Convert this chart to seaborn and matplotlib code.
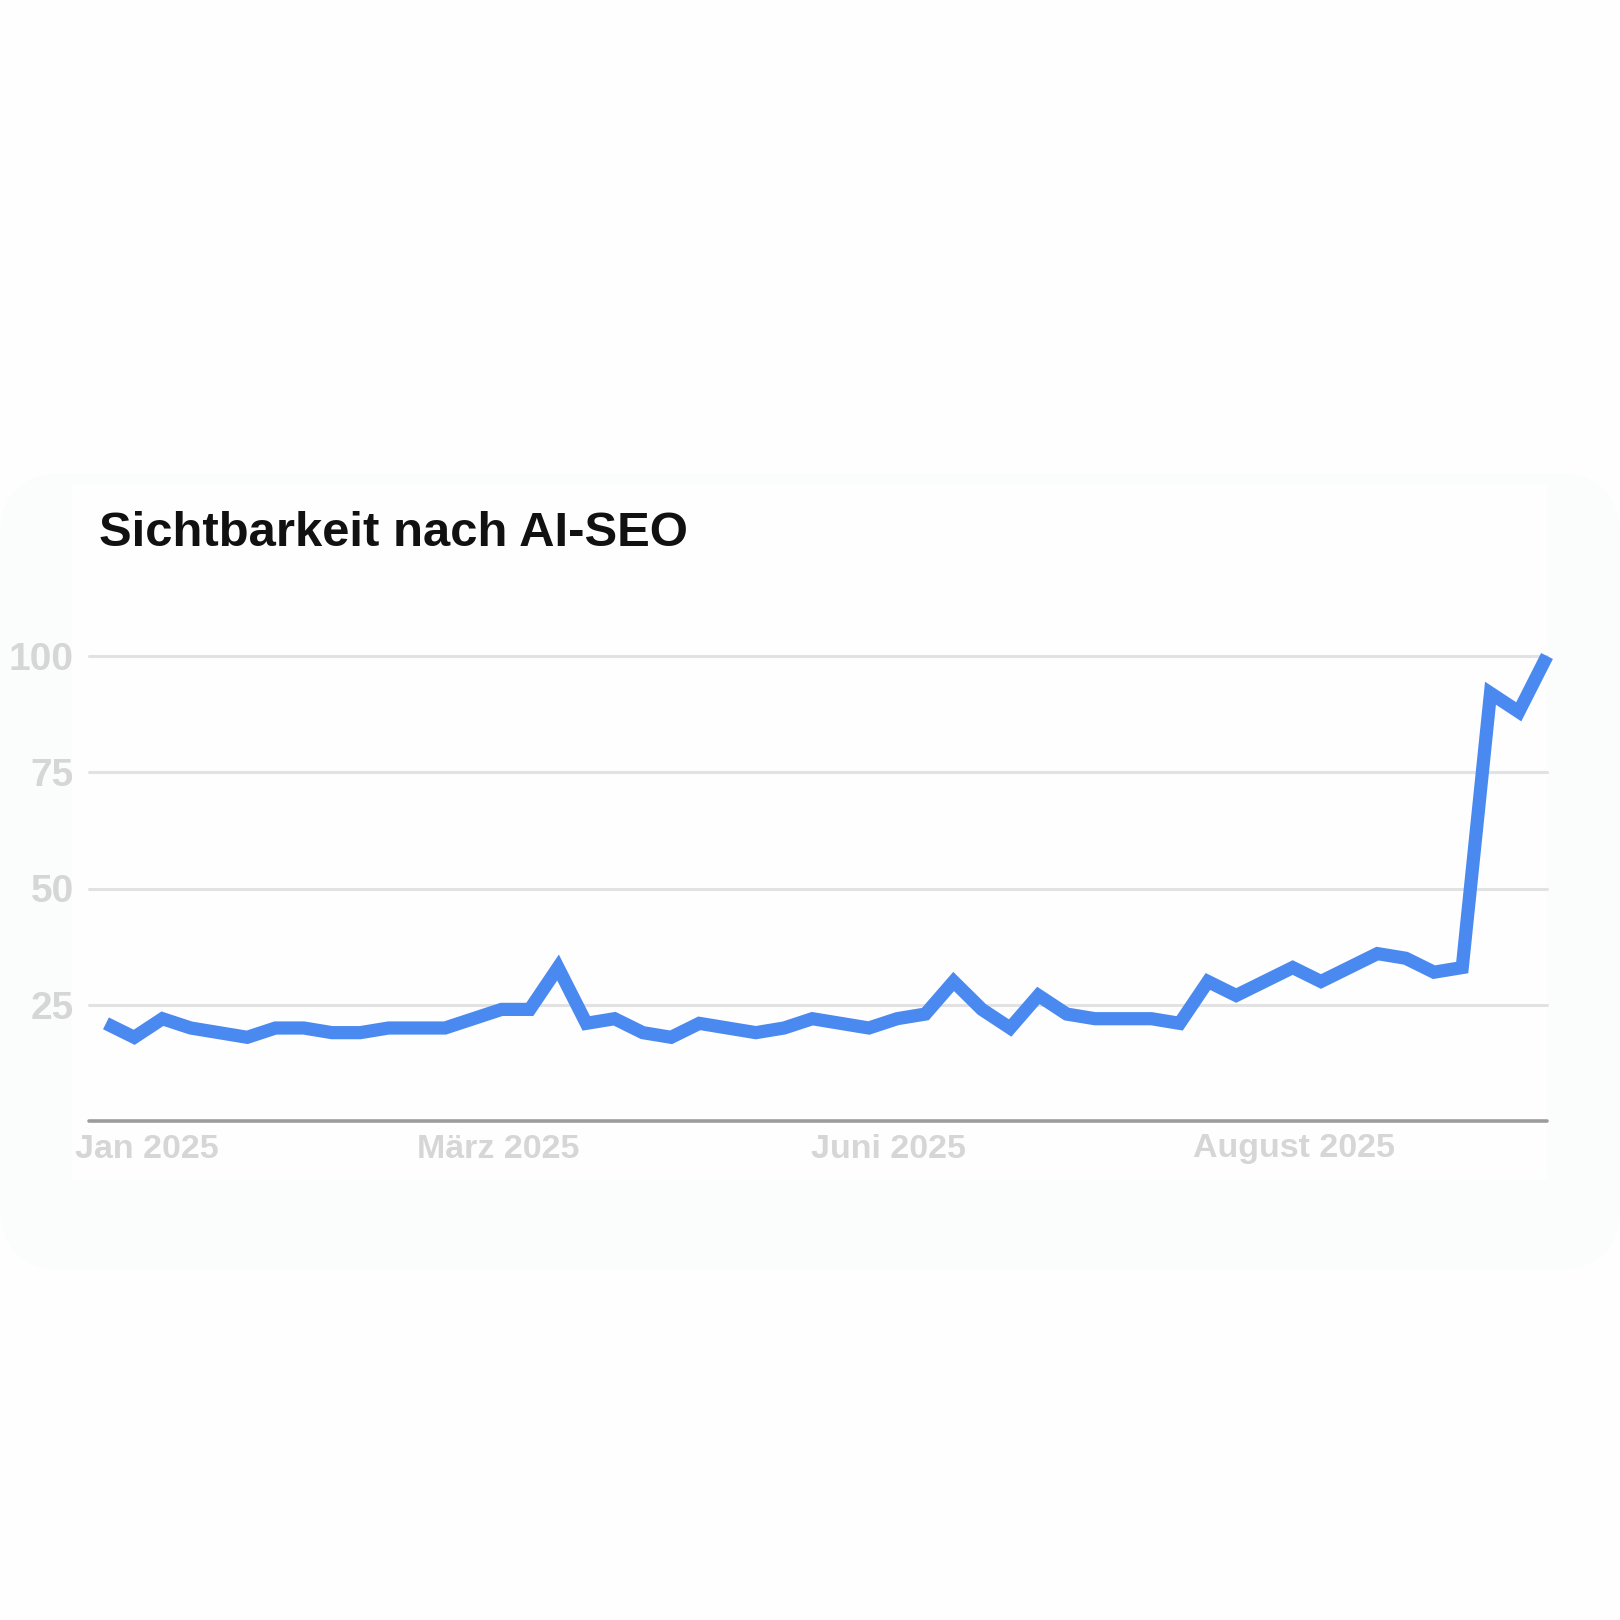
import matplotlib
matplotlib.use("Agg")
import matplotlib.pyplot as plt
from matplotlib.patches import FancyBboxPatch, Rectangle
import seaborn as sns
import pandas as pd

# ---- data ----
title = "Sichtbarkeit nach AI-SEO"
values = [21, 18, 22, 20, 19, 18, 20, 20, 19, 19,
          20, 20, 20, 22, 24, 24, 33, 21, 22, 19,
          18, 21, 20, 19, 20, 22, 21, 20, 22, 23,
          30, 24, 20, 27, 23, 22, 22, 22, 21, 30,
          27, 30, 33, 30, 33, 36, 35, 32, 33, 92,
          88, 100]
weeks = list(range(len(values)))
x_tick_pos = [1.45, 13.9, 27.7, 42.05]
x_tick_labels = ["Jan 2025", "März 2025", "Juni 2025", "August 2025"]
y_ticks = [25, 50, 75, 100]

df = pd.DataFrame({"week": weeks, "value": values})

sns.set_theme(style="white")
plt.rcParams["font.family"] = ["Liberation Sans", "DejaVu Sans"]

W = H = 1620
fig = plt.figure(figsize=(16.2, 16.2), dpi=100, facecolor="#fefefe")

# faint card background
card = FancyBboxPatch((0 / W, 1 - 1270 / H), 1620 / W, (1270 - 473) / H,
                      boxstyle="round,pad=0,rounding_size=0.04",
                      transform=fig.transFigure, facecolor="#fbfcfc",
                      edgecolor="none", zorder=-3)
fig.patches.append(card)
inner = Rectangle((72 / W, 1 - 1180 / H), (1547 - 72) / W, (1180 - 485) / H,
                  transform=fig.transFigure, facecolor="#fefefe",
                  edgecolor="none", zorder=-2)
fig.patches.append(inner)

ax = fig.add_axes([89 / W, 1 - 1121 / H, (1547 - 89) / W, (1121 - 656) / H])
ax.set_facecolor("none")
ax.set_zorder(2)

sns.lineplot(data=df, x="week", y="value", ax=ax, color="#4a89f0",
             clip_on=False, zorder=3)
for ln in ax.lines:
    ln.set_linewidth(9.5)
    ln.set_solid_joinstyle("miter")
    ln.set_solid_capstyle("butt")

ax.set_xlim(-0.6, 51)
ax.set_ylim(0, 100)

for yv in y_ticks:
    ax.axhline(yv, color="#e2e2e2", linewidth=2.2, zorder=1, clip_on=False)
ax.axhline(0, color="#9c9c9c", linewidth=2.6, zorder=2, clip_on=False)

ax.set_yticks(y_ticks)
ax.set_yticklabels([str(v) for v in y_ticks], fontsize=28, fontweight="bold",
                   color="#d6d6d6")
ax.set_xticks(x_tick_pos)
ax.set_xticklabels(x_tick_labels, fontsize=24.5, fontweight="bold",
                   color="#d6d6d6")
ax.tick_params(axis="y", length=0, pad=11)
ax.tick_params(axis="x", length=0, pad=9)
ax.set_xlabel("")
ax.set_ylabel("")
for s in ax.spines.values():
    s.set_visible(False)
ax.grid(False)

fig.text(99 / W, 1 - 534 / H, title, fontsize=35.3, fontweight="bold",
         color="#111111", ha="left", va="center")

fig.savefig("out.png", dpi=100, facecolor=fig.get_facecolor())
